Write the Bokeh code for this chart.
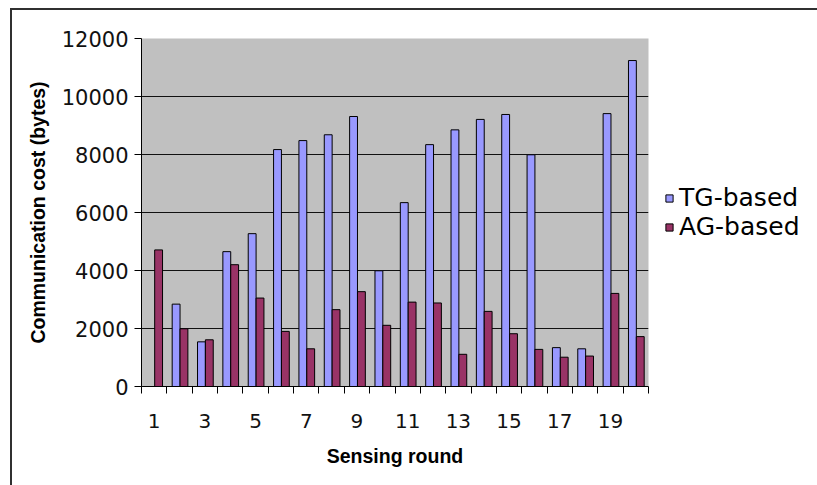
from bokeh.plotting import figure
from bokeh.models import ColumnDataSource, FixedTicker, Legend, LegendItem, Range1d
from bokeh.transform import dodge
from bokeh.embed import file_html
from bokeh.resources import INLINE

# ---- data ----
rounds = list(range(1, 21))
tg_based = [0, 2840, 1540, 4650, 5270, 8170, 8480, 8680, 9310, 3990,
            6340, 8340, 8850, 9210, 9380, 7990, 1340, 1300, 9410, 11240]
ag_based = [4710, 1990, 1610, 4200, 3050, 1900, 1300, 2650, 3270, 2110,
            2910, 2880, 1110, 2590, 1820, 1280, 1010, 1050, 3210, 1720]
series_names = ["TG-based", "AG-based"]
x_tick_labels = [1, 3, 5, 7, 9, 11, 13, 15, 17, 19]
y_ticks = [0, 2000, 4000, 6000, 8000, 10000, 12000]
x_title = "Sensing round"
y_title = "Communication cost (bytes)"

TG_COLOR = "#9999FF"
AG_COLOR = "#993366"

source = ColumnDataSource(data=dict(round=rounds, tg=tg_based, ag=ag_based))

p = figure(frame_width=507, frame_height=348, output_backend="svg", toolbar_location=None,
           x_range=Range1d(0.5, 20.5), y_range=Range1d(0, 12000),
           min_border_left=141, min_border_top=38,
           min_border_right=169, min_border_bottom=99)

# thin dark frame (top and left edges) around the whole chart, as in the reference
p.styles = {
    "background-image": "linear-gradient(#303030, #303030), linear-gradient(#303030, #303030)",
    "background-position": "10px 8px, 10px 8px",
    "background-size": "calc(100% - 10px) 2px, 2px calc(100% - 8px)",
    "background-repeat": "no-repeat",
    "background-color": "white",
}

p.background_fill_color = "#C0C0C0"
p.border_fill_color = None
p.outline_line_color = None

r_tg = p.vbar(x=dodge("round", -0.135, range=p.x_range), top="tg", width=0.31,
              source=source, fill_color=TG_COLOR, line_color="black", line_width=1)
r_ag = p.vbar(x=dodge("round", 0.175, range=p.x_range), top="ag", width=0.31,
              source=source, fill_color=AG_COLOR, line_color="black", line_width=1)

# hidden square-marker renderers used only for square legend swatches
k_tg = p.scatter(x="round", y="tg", source=source, marker="square",
                 fill_color=TG_COLOR, line_color="black", line_width=1, visible=False)
k_ag = p.scatter(x="round", y="ag", source=source, marker="square",
                 fill_color=AG_COLOR, line_color="black", line_width=1, visible=False)

# grid
p.xgrid.visible = False
p.ygrid.ticker = FixedTicker(ticks=y_ticks[1:-1])
p.ygrid.grid_line_color = "#111111"
p.ygrid.grid_line_width = 1

# x axis: labels at odd rounds, tick marks between groups
bounds = [r - 0.5 for r in rounds] + [rounds[-1] + 0.5]
p.xaxis.ticker = FixedTicker(ticks=x_tick_labels, minor_ticks=bounds)
p.xaxis.major_tick_out = 7
p.xaxis.major_tick_in = 0
p.xaxis.minor_tick_line_color = "black"
p.xaxis.minor_tick_out = 7
p.xaxis.minor_tick_in = 0
p.xaxis.major_label_standoff = 20
p.xaxis.axis_label = x_title
p.xaxis.axis_label_standoff = 14

# y axis
p.yaxis.ticker = FixedTicker(ticks=y_ticks)
p.yaxis.major_tick_out = 7
p.yaxis.major_tick_in = 0
p.yaxis.minor_tick_line_color = None
p.yaxis.major_label_standoff = 6
p.yaxis.axis_label = y_title
p.yaxis.axis_label_standoff = 10

for ax in (p.xaxis[0], p.yaxis[0]):
    ax.axis_line_color = "black"
    ax.major_label_text_font = "DejaVu Sans"
    ax.major_label_text_font_size = "20px"
    ax.major_label_text_color = "#111111"
    ax.axis_label_text_font = "Liberation Sans"
    ax.axis_label_text_font_style = "bold"
    ax.axis_label_text_font_size = "19.5px"
    ax.axis_label_text_color = "black"
p.xaxis.major_tick_line_color = None
p.yaxis.major_tick_line_color = "black"
p.yaxis.major_label_text_font_size = "21px"

legend = Legend(items=[LegendItem(label=series_names[0], renderers=[k_tg]),
                       LegendItem(label=series_names[1], renderers=[k_ag])],
                location="center_left", orientation="vertical")
legend.label_text_font = "DejaVu Sans"
legend.label_text_font_size = "25px"
legend.label_text_color = "black"
legend.glyph_width = 18
legend.glyph_height = 18
legend.label_standoff = 1
legend.spacing = 0
legend.padding = 0
legend.margin = 12
legend.inactive_fill_alpha = 0
legend.background_fill_alpha = 0
legend.border_line_color = None
p.add_layout(legend, "right")

open("out.html", "w").write(file_html(p, INLINE))
